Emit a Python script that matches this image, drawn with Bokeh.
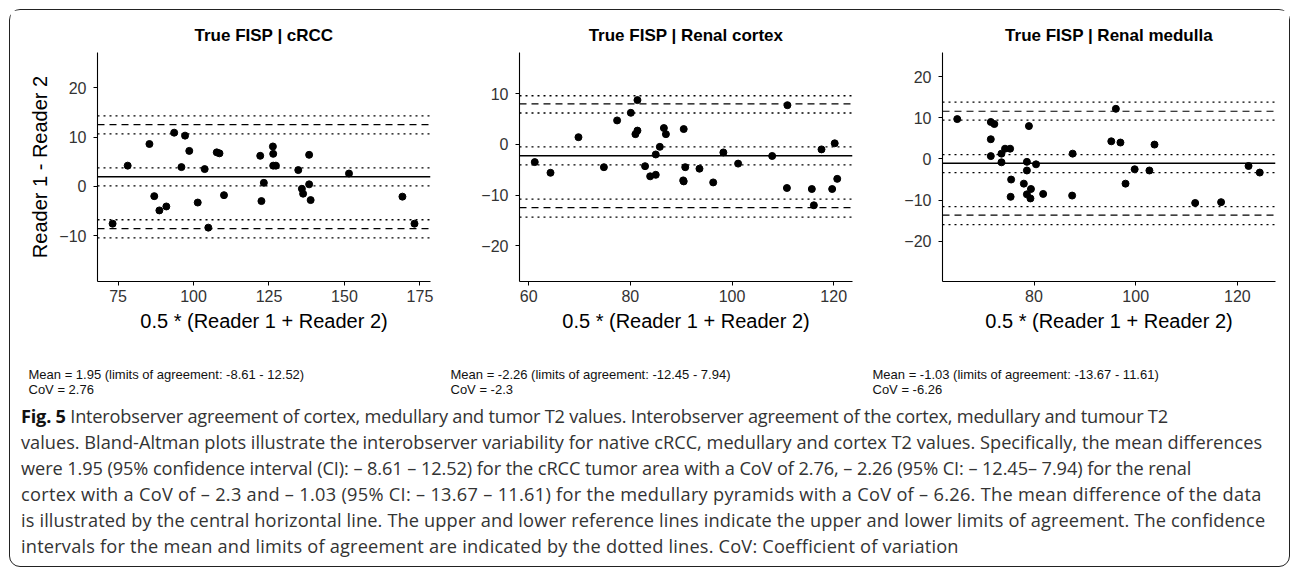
from bokeh.plotting import figure
from bokeh.models import Span, FixedTicker, Div, Range1d, ColumnDataSource
from bokeh.layouts import row, column
from bokeh.embed import file_html
from bokeh.resources import INLINE

# ---------------- data ----------------
panel_titles = ["True FISP | cRCC", "True FISP | Renal cortex", "True FISP | Renal medulla"]
x_label = "0.5 * (Reader 1 + Reader 2)"
y_label = "Reader 1 - Reader 2"

crcc_avg = [73.2, 78.2, 85.4, 87.0, 88.7, 91.0, 93.6, 97.2, 96.0, 98.6, 101.4, 103.7, 104.9, 107.7,
            108.6, 110.1, 122.1, 122.5, 123.3, 126.3, 126.4, 126.4, 127.3, 134.7, 138.3, 135.9,
            136.3, 138.3, 138.8, 151.5, 169.2, 173.2]
crcc_diff = [-7.6, 4.2, 8.6, -2.0, -4.9, -4.1, 10.9, 10.3, 3.9, 7.2, -3.3, 3.5, -8.4, 6.9,
             6.7, -1.8, 6.2, -3.0, 0.7, 8.1, 6.6, 4.2, 4.2, 3.3, 6.4, -0.5,
             -1.5, 0.4, -2.8, 2.6, -2.1, -7.6]

cortex_avg = [61.2, 64.3, 69.8, 74.8, 77.4, 80.1, 81.4, 81.0, 81.4, 82.9, 83.9, 85.0, 85.0, 85.8,
              86.6, 87.0, 90.5, 90.4, 90.5, 90.8, 93.6, 96.3, 98.3, 101.2, 107.9, 110.9, 110.8,
              115.7, 116.1, 117.6, 119.7, 120.2, 120.7]
cortex_diff = [-3.5, -5.6, 1.4, -4.5, 4.7, 6.2, 8.7, 2.0, 2.7, -4.3, -6.3, -6.0, -2.0, -0.5,
               3.2, 2.0, 3.0, -7.1, -7.3, -4.5, -4.8, -7.5, -1.6, -3.8, -2.3, 7.7, -8.6,
               -8.8, -12.0, -1.0, -8.8, 0.2, -6.8]

medulla_avg = [64.9, 71.5, 72.2, 71.5, 71.5, 73.6, 74.3, 75.3, 73.6, 75.5, 75.4, 78.0, 78.6, 78.6,
               78.6, 79.3, 79.4, 79.0, 80.4, 81.8, 87.6, 87.5, 95.2, 96.1, 97.0, 98.0, 99.8,
               102.7, 103.7, 111.7, 116.8, 122.2, 124.4]
medulla_diff = [9.7, 9.0, 8.5, 4.8, 0.7, 1.3, 2.5, 2.5, -0.8, -5.0, -9.2, -6.0, -0.7, -2.8,
                -8.6, -9.6, -7.3, 8.0, -1.3, -8.5, 1.3, -8.9, 4.3, 12.2, 4.0, -6.0, -2.5,
                -2.8, 3.5, -10.7, -10.5, -1.7, -3.3]

mean_diff = [1.95, -2.26, -1.03]
loa_lower = [-8.61, -12.45, -13.67]
loa_upper = [12.52, 7.94, 11.61]
mean_ci = [[0.1, 3.75], [-4.06, -0.52], [-3.32, 1.05]]
upper_ci = [[10.65, 14.3], [6.16, 9.56], [9.47, 13.85]]
lower_ci = [[-10.5, -6.8], [-14.34, -10.8], [-15.95, -11.58]]
cov = ["2.76", "-2.3", "-6.26"]

x_ticks = [[75, 100, 125, 150, 175], [60, 80, 100, 120], [80, 100, 120]]
y_ticks = [[-10, 0, 10, 20], [-20, -10, 0, 10], [-20, -10, 0, 10, 20]]
x_ranges = [(68.2, 178.5), (58.2, 123.7), (62.0, 127.5)]
y_ranges = [(-19.35, 27.2), (-27.0, 18.07), (-29.8, 25.9)]

caption_lines = [
    "<b style='color:#111'>Fig. 5</b> Interobserver agreement of cortex, medullary and tumor T2 values. Interobserver agreement of the cortex, medullary and tumour T2",
    "values. Bland-Altman plots illustrate the interobserver variability for native cRCC, medullary and cortex T2 values. Specifically, the mean differences",
    "were 1.95 (95% confidence interval (CI): \u2013 8.61 \u2013 12.52) for the cRCC tumor area with a CoV of 2.76, \u2013 2.26 (95% CI: \u2013 12.45\u2013 7.94) for the renal",
    "cortex with a CoV of \u2013 2.3 and \u2013 1.03 (95% CI: \u2013 13.67 \u2013 11.61) for the medullary pyramids with a CoV of \u2013 6.26. The mean difference of the data",
    "is illustrated by the central horizontal line. The upper and lower reference lines indicate the upper and lower limits of agreement. The confidence",
    "intervals for the mean and limits of agreement are indicated by the dotted lines. CoV: Coefficient of variation",
]
caption_spacing = [-0.22, 0.0, -0.09, 0.29, 0.14, 0.2]

# ---------------- plotting ----------------
FONT = "Liberation Sans"
widths = [424, 424, 431]
left_borders = [87, 85, 84]
right_borders = [4, 6, 14]
all_avg = [crcc_avg, cortex_avg, medulla_avg]
all_diff = [crcc_diff, cortex_diff, medulla_diff]

panels = []
for i in range(3):
    p = figure(width=widths[i], height=335,
               x_range=Range1d(*x_ranges[i]), y_range=Range1d(*y_ranges[i]),
               output_backend="svg", toolbar_location=None,
               min_border_left=left_borders[i], min_border_right=right_borders[i],
               min_border_top=42, min_border_bottom=64, title=panel_titles[i])
    p.title.align = "center"
    p.title.text_font = FONT
    p.title.text_font_size = "17px"
    p.title.text_font_style = "bold"
    p.title.text_color = "#000000"
    p.title.standoff = 15
    p.outline_line_color = None
    p.grid.visible = False

    for ax in (p.xaxis[0], p.yaxis[0]):
        ax.axis_line_color = "#000000"
        ax.axis_line_width = 1.1
        ax.major_tick_line_color = "#000000"
        ax.major_tick_out = 4
        ax.major_tick_in = 0
        ax.minor_tick_line_color = None
        ax.major_label_text_font = FONT
        ax.major_label_text_font_size = "16px"
        ax.major_label_text_color = "#333333"
        ax.axis_label_text_font = FONT
        ax.axis_label_text_font_size = "20px"
        ax.axis_label_text_font_style = "normal"
        ax.axis_label_text_color = "#000000"
    p.xaxis.ticker = FixedTicker(ticks=x_ticks[i])
    p.yaxis.ticker = FixedTicker(ticks=y_ticks[i])
    p.xaxis.major_label_standoff = 4
    p.yaxis.major_label_standoff = 7
    p.xaxis.axis_label = x_label
    p.xaxis.axis_label_standoff = 5
    if i == 0:
        p.yaxis.axis_label = y_label
        p.yaxis.axis_label_standoff = 5

    for lo, hi in (mean_ci[i], upper_ci[i], lower_ci[i]):
        for loc in (lo, hi):
            p.add_layout(Span(location=loc, dimension="width", line_color="#000000",
                              line_width=1.3, line_dash="2 4"))
    for loc in (loa_lower[i], loa_upper[i]):
        p.add_layout(Span(location=loc, dimension="width", line_color="#000000",
                          line_width=1.2, line_dash="7 5"))
    p.add_layout(Span(location=mean_diff[i], dimension="width", line_color="#000000",
                      line_width=1.4))

    src = ColumnDataSource(dict(x=all_avg[i], y=all_diff[i]))
    p.scatter("x", "y", source=src, size=7, color="#000000")
    panels.append(p)

stat_lefts = [18.5, 440.5, 862.5]
blocks = []
for i in range(3):
    blocks.append(
        f"<div style=\"position:absolute;left:{stat_lefts[i]}px;top:22px;white-space:nowrap\">"
        f"Mean = {mean_diff[i]} (limits of agreement: {loa_lower[i]} - {loa_upper[i]})<br>CoV = {cov[i]}</div>")
stats = Div(text=("<div style=\"position:relative;width:1279px;height:58px;font-family:'Liberation Sans';"
                  "font-size:13px;line-height:15px;color:#111\">" + "".join(blocks) + "</div>"),
            width=1279, height=58, margin=0)

cap_html = "<br>".join(f"<span style=\"letter-spacing:{s}px\">{t}</span>"
                       for t, s in zip(caption_lines, caption_spacing))
cap = Div(text=("<div style=\"font-family:'Open Sans';font-size:18.2px;line-height:26px;color:#333;"
                "padding-left:11px;white-space:nowrap\">" + cap_html + "</div>"),
          width=1279, height=163, margin=0)

layout = column(row(*panels), stats, cap, margin=(9, 0, 0, 9),
                styles={"border": "1.5px solid #222", "border-radius": "11px"})

open("out.html", "w").write(file_html(layout, INLINE))
